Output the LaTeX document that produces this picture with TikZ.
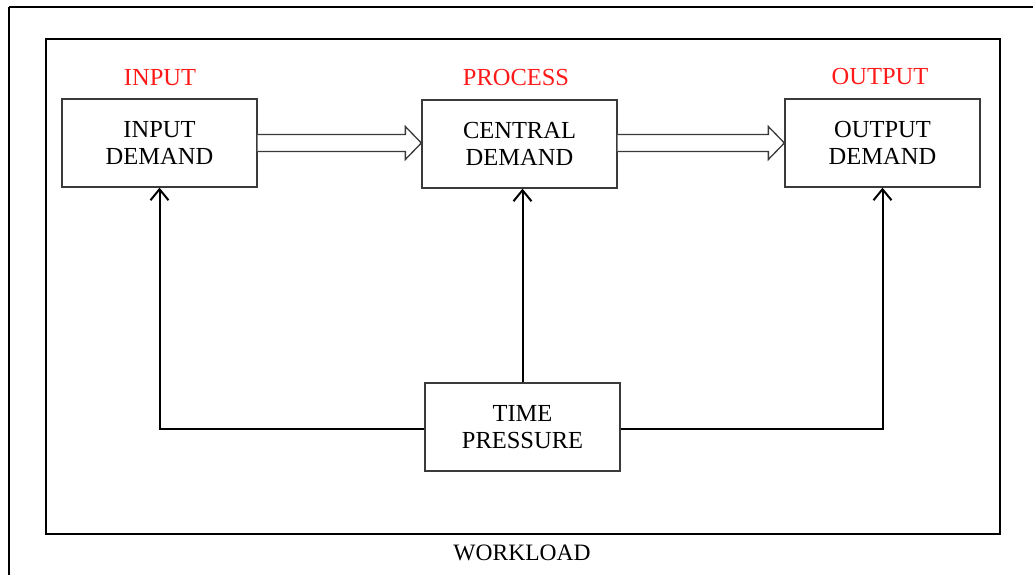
\documentclass[tikz,border=0pt]{standalone}
\usepackage{fontspec}
\setmainfont{Liberation Serif}
\usetikzlibrary{arrows.meta,calc}
\definecolor{boxgray}{HTML}{3A3A3A}
\definecolor{labelred}{HTML}{FF1A1A}
\tikzset{
  stagebox/.style={draw=boxgray,line width=1.3pt,fill=white,minimum width=195pt,minimum height=88pt,
    align=center,inner sep=0pt,font=\fontsize{24.5}{27}\selectfont},
  stagelabel/.style={text=labelred,font=\fontsize{24.5}{27}\selectfont,inner sep=0pt},
  feed/.style={line width=2pt,-{Straight Barb[length=11pt,width=18pt,line width=2pt]}},
  flow/.style={draw=boxgray,line width=1.3pt,fill=white,line join=miter},
  frame/.style={line width=2.2pt}
}
\begin{document}
\begin{tikzpicture}[x=1pt,y=-1pt]
\useasboundingbox (0,0) rectangle (1033,574);
\begin{scope}
\clip (0,0) rectangle (1033,574);
% outer page border
\draw[frame,line width=2pt] (9,6.5) -- (1040,6.5);
\draw[frame,line width=2pt] (9,6.5) -- (9,580);
\end{scope}
% workload frame
\draw[frame] (46,39) rectangle (1000,534);

% stages
\node[stagebox] (in)  at (159.5,143) {INPUT\\DEMAND};
\node[stagebox] (cen) at (519.5,144) {CENTRAL\\DEMAND};
\node[stagebox] (out) at (882.5,143) {OUTPUT\\DEMAND};
\node[stagebox] (tp)  at (522.5,427) {TIME\\PRESSURE};

% stage labels
\node[stagelabel] (lin)  at (160,78) {INPUT};
\node[stagelabel] (lcen) at (516,78) {PROCESS};
\node[stagelabel] (lout) at (880,77) {OUTPUT};
\node[inner sep=0pt,font=\fontsize{23.5}{26}\selectfont] (wl) at (522,553) {WORKLOAD};

% hollow flow arrows between stages, level with the source box
\draw[flow] ($(in.east)+(0,-8.5)$) -- ($(in.east -| cen.west)+(-16,-8.5)$) -- ($(in.east -| cen.west)+(-16,-16.5)$)
  -- (in.east -| cen.west) -- ($(in.east -| cen.west)+(-16,16.5)$) -- ($(in.east -| cen.west)+(-16,8.5)$) -- ($(in.east)+(0,8.5)$);
\draw[flow] ($(in.east -| cen.east)+(0,-8.5)$) -- ($(in.east -| out.west)+(-16,-8.5)$) -- ($(in.east -| out.west)+(-16,-16.5)$)
  -- (in.east -| out.west) -- ($(in.east -| out.west)+(-16,16.5)$) -- ($(in.east -| out.west)+(-16,8.5)$) -- ($(in.east -| cen.east)+(0,8.5)$);

% time pressure feeds each stage
\coordinate (tpl) at ($(tp.west)+(0,2)$);
\coordinate (tpr) at ($(tp.east)+(0,2)$);
\draw[feed] (tpl) -| (in.south);
\draw[feed] (tp.north) -- (tp.north |- cen.south);
\draw[feed] (tpr) -| (out.south);
\end{tikzpicture}
\end{document}
